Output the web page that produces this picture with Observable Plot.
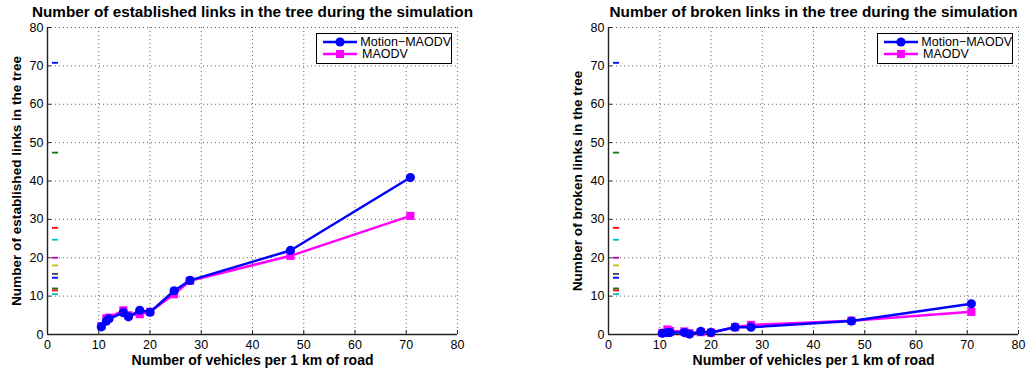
<!DOCTYPE html>
<html>
<head>
<meta charset="utf-8">
<script src="https://cdn.jsdelivr.net/npm/d3@7"></script>
<script src="https://cdn.jsdelivr.net/npm/@observablehq/plot@0.6"></script>
<style>
  html, body { margin: 0; padding: 0; background: #fff; overflow: hidden; }
  #wrap { position: relative; width: 1027px; height: 372px; font-family: "Liberation Sans", Arial, Helvetica, sans-serif; }
  .panel { position: absolute; top: 0; }
  .legend { position: absolute; border: 1.3px solid #000; background: #fff; font-size: 12.5px; color: #000; box-sizing: border-box; padding: 2px 0 0 6px; }
  .legend .row { display: flex; align-items: center; height: 12px; line-height: 12px; }
  .legend svg { margin-right: 3px; }
</style>
</head>
<body>
<div id="wrap"></div>
<script>
// ---- data ----
const vehicleDensity = [10.5, 11.5, 12, 14.8, 15.8, 18, 20, 24.7, 27.8, 47.4, 70.8];
const establishedMotion = [2.0, 3.5, 4.1, 5.7, 4.6, 6.3, 5.8, 11.4, 14.1, 21.9, 40.9];
const establishedMaodv  = [2.2, 4.2, 4.4, 6.3, 5.0, 5.3, 5.9, 10.5, 14.0, 20.5, 30.9];
const brokenMotion = [0.3, 0.5, 0.5, 0.5, 0.1, 0.8, 0.5, 1.9, 1.9, 3.5, 8.0];
const brokenMaodv  = [0.4, 1.3, 0.9, 0.8, 0.3, 0.6, 0.5, 1.9, 2.5, 3.6, 5.9];
const xTicks = [0, 10, 20, 30, 40, 50, 60, 70, 80];
const yTicks = [0, 10, 20, 30, 40, 50, 60, 70, 80];
const seriesNames = ["Motion\u2212MAODV", "MAODV"];
const seriesColors = ["#0000FF", "#FF00FF"];
const matlabOrder = ["#0000FF", "#008000", "#FF0000", "#00BFBF", "#BF00BF", "#BFBF00", "#404040"];
const titles = ["Number of established links in the tree during the simulation", "Number of broken links in the tree during the simulation"];
const yLabels = ["Number of established links in the tree", "Number of broken links in the tree"];
const xLabel = "Number of vehicles per 1 km of road";

// stray dashes drawn near the y axis (one per density value, MATLAB colour order)
const strays = vehicleDensity.slice().reverse().map((v, i) => ({v, c: matlabOrder[i % matlabOrder.length]}));

const dashSymbol = { draw(ctx, size) { ctx.moveTo(-3, 0); ctx.lineTo(3, 0); } };

function makePanel(idx, motion, maodv, left, width, marginRight) {
  const height = 372, marginTop = 27, marginBottom = 38, marginLeft = 47;
  const plotW = width - marginLeft - marginRight;
  const plotH = height - marginTop - marginBottom;
  const rows = (vals) => vehicleDensity.map((x, i) => ({x, y: vals[i]}));
  const mot = rows(motion), mao = rows(maodv);
  const grid = {stroke: "#555", strokeWidth: 0.9, strokeDasharray: "1,3"};
  const svg = Plot.plot({
    width, height, marginTop, marginBottom, marginLeft, marginRight,
    style: {fontFamily: "Liberation Sans, Arial, sans-serif", fontSize: "12.5px", color: "#000", background: "#fff"},
    x: {domain: [0, 80], ticks: xTicks, tickSize: 0, tickPadding: 6, label: null},
    y: {domain: [0, 80], ticks: yTicks, tickSize: 0, tickPadding: 4, label: null},
    color: {type: "identity"},
    marks: [
      Plot.ruleX(xTicks, grid),
      Plot.ruleY(yTicks, grid),
      Plot.tickX(xTicks, {x: d => d, insetTop: plotH - 4, stroke: "#222", strokeWidth: 1}),
      Plot.tickY(yTicks, {y: d => d, insetRight: plotW - 4, stroke: "#222", strokeWidth: 1}),
      Plot.ruleX([xTicks[0]], {stroke: "#222", strokeWidth: 1.4}),
      Plot.ruleY([yTicks[0]], {stroke: "#222", strokeWidth: 1.4}),
      Plot.dot(strays, {y: "v", frameAnchor: "left", dx: 7.5, symbol: dashSymbol, stroke: "c", strokeWidth: 1.8}),
      Plot.line(mao, {x: "x", y: "y", stroke: seriesColors[1], strokeWidth: 2.5}),
      Plot.dot(mao, {x: "x", y: "y", symbol: "square", r: 4.6, fill: seriesColors[1]}),
      Plot.line(mot, {x: "x", y: "y", stroke: seriesColors[0], strokeWidth: 2.5}),
      Plot.dot(mot, {x: "x", y: "y", symbol: "circle", r: 4.6, fill: seriesColors[0]}),
      Plot.text([titles[idx]], {frameAnchor: "top", dy: -15, lineAnchor: "middle", fontWeight: "bold", fontSize: 15.3, fill: "#000"}),
      Plot.text([yLabels[idx]], {frameAnchor: "left", rotate: -90, dx: -31, textAnchor: "middle", lineAnchor: "middle", fontWeight: "bold", fontSize: 13.6, fill: "#000"}),
      Plot.text([xLabel], {frameAnchor: "bottom", dy: 26, lineAnchor: "middle", fontWeight: "bold", fontSize: 14, fill: "#000"})
    ]
  });
  const div = document.createElement("div");
  div.className = "panel";
  div.style.left = left + "px";
  div.appendChild(svg);
  // legend
  const leg = document.createElement("div");
  leg.className = "legend";
  leg.style.left = (marginLeft + 269) + "px";
  leg.style.top = "33px";
  leg.style.width = "136px";
  leg.style.height = "31px";
  seriesNames.forEach((name, i) => {
    const row = document.createElement("div");
    row.className = "row";
    const sym = i === 0
      ? `<circle cx="17" cy="6" r="4.6" fill="${seriesColors[0]}"/>`
      : `<rect x="13" y="2" width="8" height="8" fill="${seriesColors[1]}"/>`;
    row.innerHTML = `<svg width="36" height="12"><line x1="0" x2="34" y1="6" y2="6" stroke="${seriesColors[i]}" stroke-width="2.5"/>${sym}</svg><span>${name}</span>`;
    leg.appendChild(row);
  });
  div.appendChild(leg);
  document.getElementById("wrap").appendChild(div);
}

makePanel(0, establishedMotion, establishedMaodv, 0, 510, 53);
makePanel(1, brokenMotion, brokenMaodv, 561, 466, 9);
</script>
</body>
</html>
